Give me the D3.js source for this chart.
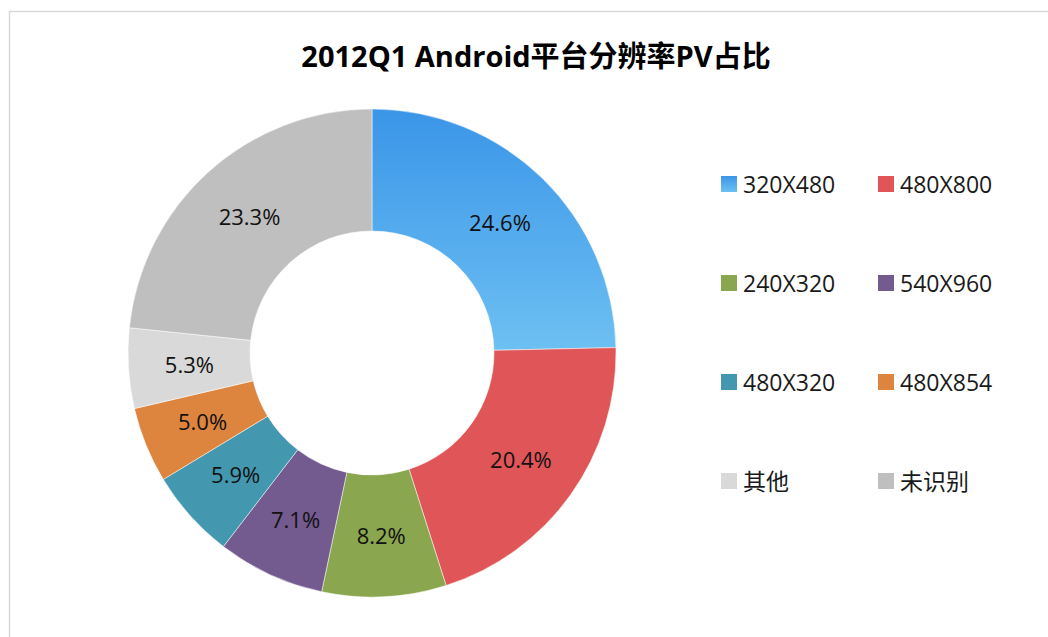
<!DOCTYPE html>
<html>
<head>
<meta charset="utf-8">
<script src="https://cdn.jsdelivr.net/npm/d3@7"></script>
<style>
  body { margin: 0; background: #fff; }
  svg { display: block; }
</style>
</head>
<body>
<div id="chart"></div>
<script>
const categories = ["320X480", "480X800", "240X320", "540X960", "480X320", "480X854", "其他", "未识别"];
const shares = [24.6, 20.4, 8.2, 7.1, 5.9, 5.0, 5.3, 23.3];
const colors = ["url(#blueGrad)", "#e05658", "#8aa64e", "#735a8f", "#4398b0", "#dd853e", "#d9d9d9", "#bfbfbf"];
const title = "2012Q1 Android平台分辨率PV占比";

const width = 1048, height = 637;
const cx = 372, cy = 353, outerR = 244, innerR = 122;

const svg = d3.select("#chart").append("svg")
    .attr("width", width)
    .attr("height", height);

// gradient for the first slice
const grad = svg.append("defs").append("linearGradient")
    .attr("id", "blueGrad")
    .attr("x1", 0).attr("y1", 0).attr("x2", 0).attr("y2", 1);
grad.append("stop").attr("offset", "0%").attr("stop-color", "#3b95e8");
grad.append("stop").attr("offset", "100%").attr("stop-color", "#6cc0f2");

// chart frame
svg.append("rect")
    .attr("x", 9.5).attr("y", 11.5)
    .attr("width", width).attr("height", height)
    .attr("fill", "none")
    .attr("stroke", "#d9d9d9")
    .attr("stroke-width", 1.5);

svg.append("text")
    .attr("x", 536)
    .attr("y", 67)
    .attr("text-anchor", "middle")
    .attr("font-family", "'Open Sans', 'Noto Sans CJK SC', sans-serif")
    .attr("font-weight", "bold")
    .attr("font-size", 29)
    .text(title);

const pie = d3.pie().sort(null).value(d => d);
const arcs = pie(shares);
const arc = d3.arc().innerRadius(innerR).outerRadius(outerR);
const labelArc = d3.arc().innerRadius(183).outerRadius(183);

const g = svg.append("g").attr("transform", `translate(${cx},${cy})`);

g.selectAll("path.slice")
    .data(arcs)
    .join("path")
    .classed("slice", true)
    .attr("d", arc)
    .attr("fill", (d, i) => colors[i])
    .attr("stroke", "#fff")
    .attr("stroke-width", 0.5);

g.selectAll("text.pct")
    .data(arcs)
    .join("text")
    .classed("pct", true)
    .attr("transform", d => `translate(${labelArc.centroid(d)})`)
    .attr("text-anchor", "middle")
    .attr("dy", "0.38em")
    .attr("font-family", "'Open Sans', sans-serif")
    .attr("font-size", 22)
    .attr("fill", "#111")
    .text(d => d.data.toFixed(1) + "%");

// legend, two columns
const legend = svg.append("g");
const items = legend.selectAll("g.item")
    .data(categories)
    .join("g")
    .classed("item", true)
    .attr("transform", (d, i) => `translate(${721 + (i % 2) * 157},${184 + Math.floor(i / 2) * 99})`);

items.append("rect")
    .attr("x", 0).attr("y", -8)
    .attr("width", 16).attr("height", 16)
    .attr("fill", (d, i) => colors[i]);

items.append("text")
    .attr("x", 22)
    .attr("dy", "0.37em")
    .attr("font-family", "'Open Sans', 'Noto Sans CJK SC', sans-serif")
    .attr("font-size", 23)
    .attr("fill", "#1a1a1a")
    .text(d => d);
</script>
</body>
</html>
